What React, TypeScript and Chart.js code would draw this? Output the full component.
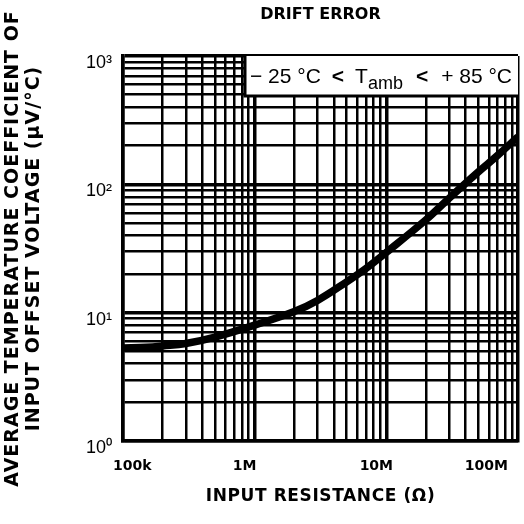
import React, { useEffect, useRef } from 'react';
import { Chart, registerables } from 'chart.js';
Chart.register(...registerables);

// Curve (input resistance in ohm, drift in µV/°C)
const resistance = [1e5, 1.5e5, 2e5, 3e5, 5e5, 1e6, 2e6, 3e6, 5e6, 7e6, 1e7, 2e7, 3e7, 5e7, 7e7, 1e8];
const driftCoeff = [5.3, 5.37, 5.5, 5.75, 6.46, 8.0, 10.2, 12.45, 17.4, 22.1, 29.5, 53, 78, 125, 168, 235];

// Axis decades and labels
const xDecades = [1e5, 1e6, 1e7, 1e8];
const xDecadeLabels = ['100k', '1M', '10M', '100M'];
const yDecades = [1, 10, 100, 1000];
const yDecadeLabels = ['10⁰', '10¹', '10²', '10³'];
const minorSteps = [1, 2, 3, 4, 5, 6, 7, 8, 9];

const chartTitle = 'DRIFT ERROR';
const xTitle = 'INPUT RESISTANCE (Ω)';
const yTitle = ['AVERAGE TEMPERATURE COEFFICIENT OF', 'INPUT OFFSET VOLTAGE (μV/°C)'];
const conditionParts = ['− 25 °C', '<', 'T', 'amb', '<', '+ 85 °C'];

function gridValues(decades: number[]): number[] {
  const out: number[] = [];
  for (let i = 0; i < decades.length - 1; i++) {
    for (const m of minorSteps) out.push(decades[i] * m);
  }
  out.push(decades[decades.length - 1]);
  return out;
}

const xGrid = gridValues(xDecades);
const yGrid = gridValues(yDecades);

const titleSpacing = {
  id: 'titleSpacing',
  beforeDraw(chart: any) {
    const patch = (scale: any, spacing: string) => {
      if (!scale || scale.__spaced) return;
      const orig = scale.drawTitle.bind(scale);
      scale.drawTitle = (...args: any[]) => {
        const c = scale.ctx as any;
        const prev = c.letterSpacing;
        c.letterSpacing = spacing;
        orig(...args);
        c.letterSpacing = prev || '0px';
      };
      scale.__spaced = true;
    };
    patch(chart.scales.y, '1px');
    patch(chart.scales.x, '0.6px');
  },
};

const conditionBox = {
  id: 'conditionBox',
  afterDraw(chart: any) {
    const { ctx, chartArea } = chart;
    const w = 273;
    const h = 40;
    const x0 = chartArea.right - w;
    const y0 = chartArea.top;
    ctx.save();
    ctx.fillStyle = '#fff';
    ctx.fillRect(x0, y0, w, h);
    ctx.strokeStyle = '#000';
    ctx.lineWidth = 3;
    ctx.beginPath();
    ctx.moveTo(x0, y0);
    ctx.lineTo(x0, y0 + h);
    ctx.lineTo(chartArea.right, y0 + h);
    ctx.stroke();
    ctx.fillStyle = '#000';
    ctx.textBaseline = 'alphabetic';
    const big = '21px "Liberation Sans", Arial, sans-serif';
    const bold = 'bold 21px "Liberation Sans", Arial, sans-serif';
    const small = '18px "Liberation Sans", Arial, sans-serif';
    const base = y0 + 27;
    ctx.textAlign = 'left';
    ctx.font = big;
    let x = x0 + 5;
    ctx.fillText(conditionParts[0], x, base);
    x += ctx.measureText(conditionParts[0]).width + 11;
    ctx.font = bold;
    ctx.fillText(conditionParts[1], x, base);
    x += ctx.measureText(conditionParts[1]).width + 11;
    ctx.font = big;
    ctx.fillText(conditionParts[2], x, base);
    x += ctx.measureText(conditionParts[2]).width;
    ctx.font = small;
    ctx.fillText(conditionParts[3], x, base + 6);
    const ambEnd = x + ctx.measureText(conditionParts[3]).width;
    ctx.font = big;
    ctx.textAlign = 'right';
    const rightX = chartArea.right - 6;
    ctx.fillText(conditionParts[5], rightX, base);
    const plusStart = rightX - ctx.measureText(conditionParts[5]).width;
    ctx.font = bold;
    ctx.textAlign = 'center';
    ctx.fillText(conditionParts[4], (ambEnd + plusStart) / 2, base);
    ctx.restore();
  },
};

export default function App() {
  const ref = useRef<HTMLCanvasElement | null>(null);
  useEffect(() => {
    document.body.style.margin = '0';
    const canvas = ref.current;
    if (!canvas) return;
    const chart = new Chart(canvas, {
      type: 'line',
      data: {
        datasets: [
          {
            data: resistance.map((r, i) => ({ x: r, y: driftCoeff[i] })),
            borderColor: '#000',
            borderWidth: 7.5,
            pointRadius: 0,
            tension: 0.4,
            fill: false,
          },
        ],
      },
      options: {
        animation: false,
        responsive: false,
        maintainAspectRatio: false,
        layout: { padding: { left: 0, right: 6, top: 0, bottom: 0 } },
        plugins: {
          legend: { display: false },
          tooltip: { enabled: false },
          title: {
            display: true,
            text: chartTitle,
            fullSize: false,
            color: '#000',
            font: { family: '"DejaVu Sans", sans-serif', weight: 'bold', size: 16 },
            padding: { top: 5, bottom: 31.8 },
          },
        },
        scales: {
          x: {
            type: 'logarithmic',
            min: xDecades[0],
            max: xDecades[xDecades.length - 1],
            afterBuildTicks: (scale: any) => {
              scale.ticks = xGrid.map((v) => ({ value: v, major: xDecades.includes(v) }));
            },
            afterFit: (scale: any) => {
              scale.height = 83;
              scale.paddingLeft = 0;
              scale.paddingRight = 0;
            },
            ticks: {
              autoSkip: false,
              maxRotation: 0,
              minRotation: 0,
              align: 'inner',
              labelOffset: -10,
              padding: 17,
              color: '#000',
              font: { family: '"DejaVu Sans", sans-serif', weight: 'bold', size: 14 },
              callback: (value: any) => {
                const idx = xDecades.indexOf(Number(value));
                return idx >= 0 ? xDecadeLabels[idx] : '';
              },
            },
            grid: {
              color: '#000',
              drawTicks: false,
              lineWidth: (ctx: any) => (ctx.tick && xDecades.includes(ctx.tick.value) ? 3.5 : 2.5),
            },
            border: { display: true, color: '#000', width: 3.5 },
            title: {
              display: true,
              text: xTitle,
              color: '#000',
              font: { family: '"DejaVu Sans", sans-serif', weight: 'bold', size: 17 },
              padding: { top: 0, bottom: 17 },
            },
          },
          y: {
            type: 'logarithmic',
            min: yDecades[0],
            max: yDecades[yDecades.length - 1],
            afterBuildTicks: (scale: any) => {
              scale.ticks = yGrid.map((v) => ({ value: v, major: yDecades.includes(v) }));
            },
            afterFit: (scale: any) => {
              scale.width = 123;
              scale.paddingTop = 0;
              scale.paddingBottom = 0;
            },
            ticks: {
              autoSkip: false,
              padding: 11,
              labelOffset: 7,
              color: '#000',
              font: { family: '"Liberation Sans", Arial, sans-serif', size: 18 },
              callback: (value: any) => {
                const idx = yDecades.indexOf(Number(value));
                return idx >= 0 ? yDecadeLabels[idx] : '';
              },
            },
            grid: {
              color: '#000',
              drawTicks: false,
              lineWidth: (ctx: any) => (ctx.tick && yDecades.includes(ctx.tick.value) ? 3.5 : 2.5),
            },
            border: { display: true, color: '#000', width: 3.5 },
            title: {
              display: true,
              text: yTitle,
              color: '#000',
              font: { family: '"DejaVu Sans", sans-serif', weight: 'bold', size: 19, lineHeight: 1.08 },
              padding: { top: 3, bottom: 0 },
            },
          },
        },
      },
      plugins: [titleSpacing, conditionBox],
    } as any);
    return () => chart.destroy();
  }, []);
  return (
    <div style={{ width: 524, height: 524, background: '#fff' }}>
      <canvas ref={ref} width={524} height={524} style={{ display: 'block' }} />
    </div>
  );
}
